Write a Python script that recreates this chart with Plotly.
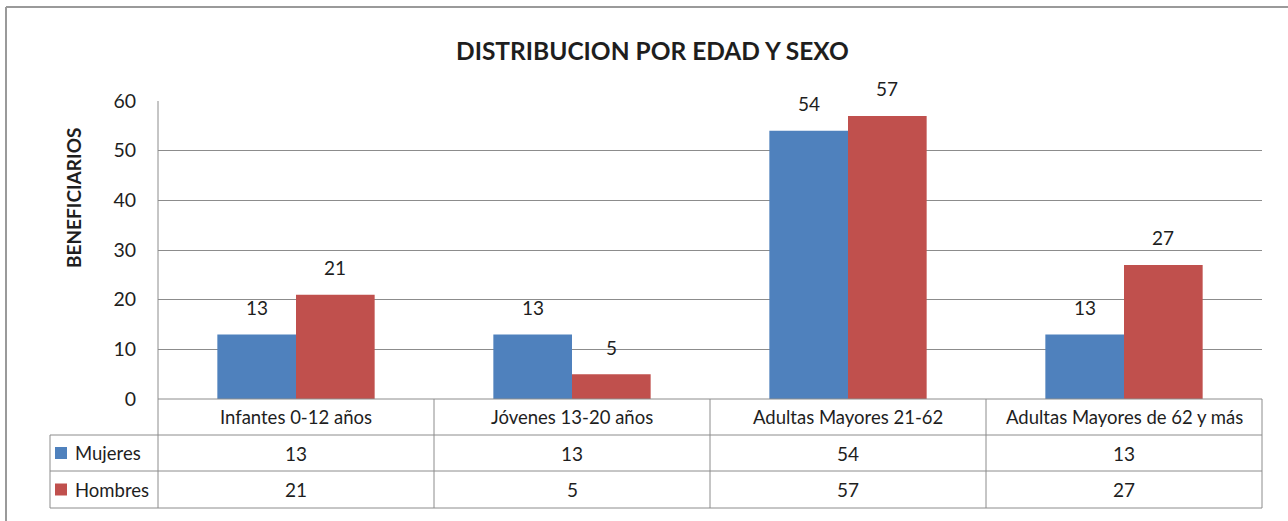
import plotly.graph_objects as go

# data
categorias = ["Infantes 0-12 años", "Jóvenes 13-20 años", "Adultas Mayores 21-62", "Adultas Mayores de 62 y más"]
mujeres = [13, 13, 54, 13]
hombres = [21, 5, 57, 27]
series = [("Mujeres", mujeres, "#4F81BD"), ("Hombres", hombres, "#C0504D")]
y_ticks = [0, 10, 20, 30, 40, 50, 60]

W, H = 1288, 521
FONT = "Lato, 'Open Sans', sans-serif"
GRID = "#8C8C8C"
TXT = "#1E1E1E"

# pixel layout (from the reference)
PLOT_L, PLOT_R, PLOT_T, PLOT_B = 158, 1262, 101, 399
TABLE_L = 50
ROW_H = [399, 435, 471, 508]


def px(x):
    return x / W


def py(y):
    return 1 - y / H


def note(x, y, text, size, **kw):
    fig.add_annotation(xref="paper", yref="paper", x=px(x), y=py(y), text=text,
                       showarrow=False, xanchor=kw.pop("xanchor", "center"), yanchor="middle",
                       font=dict(size=size, color=TXT, family=FONT), **kw)


fig = go.Figure()
for name, vals, color in series:
    fig.add_trace(go.Bar(
        x=categorias, y=vals, name=name, marker_color=color,
        marker_line_width=0, showlegend=False,
    ))

# value labels above bars
n = len(categorias)
cat_w = (PLOT_R - PLOT_L) / n
bar_w = 78
for i, (name, vals, color) in enumerate(series):
    off = (i - 0.5) * bar_w
    for c, v in zip(categorias, vals):
        fig.add_annotation(x=c, y=v, text=str(v), showarrow=False, xshift=off, yshift=27,
                           font=dict(size=19, color=TXT, family=FONT))

shapes = []
line = dict(color=GRID, width=1)
# outer chart border (top and left)
shapes.append(dict(type="line", xref="paper", yref="paper", x0=px(6), x1=1, y0=py(7), y1=py(7),
                   line=dict(color="#9A9A9A", width=2)))
shapes.append(dict(type="line", xref="paper", yref="paper", x0=px(6), x1=px(6), y0=py(7), y1=0,
                   line=dict(color="#9A9A9A", width=2)))
# table horizontal lines
shapes.append(dict(type="line", xref="paper", yref="paper", x0=px(PLOT_L), x1=px(PLOT_R),
                   y0=py(ROW_H[0]), y1=py(ROW_H[0]), line=line))
for yy in ROW_H[1:]:
    shapes.append(dict(type="line", xref="paper", yref="paper", x0=px(TABLE_L), x1=px(PLOT_R),
                       y0=py(yy), y1=py(yy), line=line))
# table vertical lines
shapes.append(dict(type="line", xref="paper", yref="paper", x0=px(PLOT_L), x1=px(PLOT_L),
                   y0=py(PLOT_T), y1=py(ROW_H[-1]), line=line))
shapes.append(dict(type="line", xref="paper", yref="paper", x0=px(TABLE_L), x1=px(TABLE_L),
                   y0=py(ROW_H[1]), y1=py(ROW_H[-1]), line=line))
for k in range(1, n + 1):
    xx = PLOT_L + k * cat_w
    shapes.append(dict(type="line", xref="paper", yref="paper", x0=px(xx), x1=px(xx),
                       y0=py(ROW_H[0]), y1=py(ROW_H[-1]), line=line))

# table texts
for k, c in enumerate(categorias):
    cx = PLOT_L + (k + 0.5) * cat_w
    note(cx, (ROW_H[0] + ROW_H[1]) / 2, c, 18.5)
    for r, (name, vals, color) in enumerate(series):
        note(cx, (ROW_H[r + 1] + ROW_H[r + 2]) / 2, str(vals[k]), 19)
for r, (name, vals, color) in enumerate(series):
    yc = (ROW_H[r + 1] + ROW_H[r + 2]) / 2
    shapes.append(dict(type="rect", xref="paper", yref="paper", x0=px(55), x1=px(67),
                       y0=py(yc - 6), y1=py(yc + 6), fillcolor=color, line_width=0))
    note(73, yc, name, 18.5, xanchor="left")

# axis title
note(73, 198, "<b>BENEFICIARIOS</b>", 19, textangle=-90)
# chart title
note(652, 50, "<b>DISTRIBUCION POR EDAD Y SEXO</b>", 24.5)

fig.update_layout(
    width=W, height=H,
    margin=dict(l=0, r=0, t=0, b=0, autoexpand=False),
    plot_bgcolor="white", paper_bgcolor="white",
    barmode="group", bargap=0.43, bargroupgap=0,
    shapes=shapes,
    xaxis=dict(domain=[px(PLOT_L), px(PLOT_R)], showticklabels=False, showgrid=False,
               zeroline=False, showline=False, automargin=False),
    yaxis=dict(domain=[py(PLOT_B), py(PLOT_T)], range=[0, 60], tickvals=y_ticks,
               showgrid=True, gridcolor=GRID, gridwidth=1, zeroline=False, showline=False,
               ticks="", ticklabelstandoff=21, automargin=False,
               tickfont=dict(size=19.5, color=TXT, family=FONT)),
)

fig.write_html("out.html", config={"displayModeBar": False},
               post_script="document.body.style.margin='0';")
